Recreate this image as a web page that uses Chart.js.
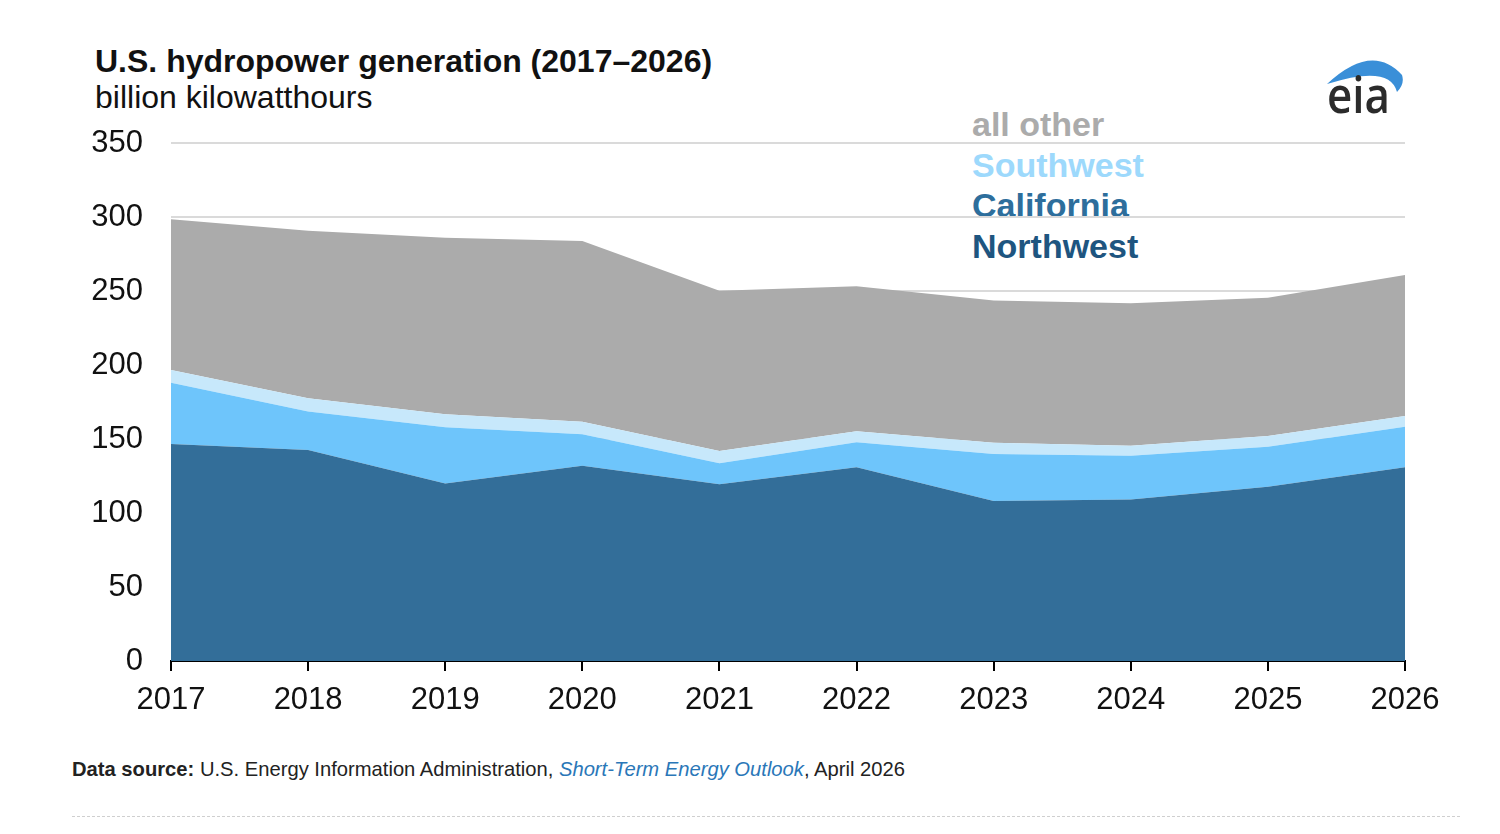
<!DOCTYPE html>
<html>
<head>
<meta charset="utf-8">
<script src="https://cdn.jsdelivr.net/npm/chart.js@4.4.1/dist/chart.umd.min.js"></script>
<style>
  html, body { margin: 0; padding: 0; background: #fff; }
  #page { position: relative; width: 1500px; height: 834px; overflow: hidden; font-family: "Liberation Sans", Arial, sans-serif; }
  #chartBox { position: absolute; left: 0; top: 0; width: 1500px; height: 834px; z-index: 2; }
  .title { position: absolute; left: 95px; top: 45px; font-size: 32px; font-weight: bold; line-height: 1; color: #111; }
  .subtitle { position: absolute; left: 95px; top: 81px; font-size: 32px; line-height: 1; color: #111; }
  .legend { position: absolute; left: 972px; top: 104px; font-size: 34px; font-weight: bold; line-height: 40.5px; z-index: 1; }
  .source { position: absolute; left: 72px; top: 757px; font-size: 20.2px; line-height: 24px; color: #222; }
  .source i { color: #2a77b8; }
  .rule { position: absolute; left: 72px; top: 816px; width: 1388px; border-top: 1px dashed #cfcfcf; }
  .logo { position: absolute; left: 1320px; top: 52px; z-index: 3; }
</style>
</head>
<body>
<div id="page">
  <div class="title">U.S. hydropower generation (2017–2026)</div>
  <div class="subtitle">billion kilowatthours</div>
  <div class="legend" id="legend"></div>
  <svg class="logo" width="90" height="70" viewBox="1320 52 90 70">
    <path d="M1327,84 Q1372,42 1402,75 Q1405,84 1397,92 Q1390,64 1327,84 Z" fill="#3a8fd8"/>
    <text x="1327" y="113" font-family="Open Sans, Liberation Sans, sans-serif" font-size="50" font-weight="600" fill="#2b2b2b" textLength="63" lengthAdjust="spacingAndGlyphs">eia</text>
  </svg>
  <div id="chartBox"><canvas id="hydroChart"></canvas></div>
  <div class="source"><b>Data source:</b> U.S. Energy Information Administration, <i>Short-Term Energy Outlook</i>, April 2026</div>
  <div class="rule"></div>
</div>
<script>
// years on the x axis
const years = ["2017", "2018", "2019", "2020", "2021", "2022", "2023", "2024", "2025", "2026"];

// billion kWh (bottom to top)
const northwest = [146.6, 142.6, 120.0, 132.0, 119.4, 130.9, 108.1, 109.2, 117.8, 130.9];
const california = [41.4, 25.9, 37.9, 21.2, 14.2, 16.9, 31.8, 29.5, 27.0, 27.4];
const southwest = [8.6, 9.0, 8.8, 8.5, 8.3, 7.4, 7.6, 6.8, 7.2, 7.2];
const allOther = [101.8, 113.2, 119.3, 122.1, 108.3, 98.0, 96.0, 96.2, 93.5, 95.3];

const yTicks = [0, 50, 100, 150, 200, 250, 300, 350];

// legend is drawn top to bottom in the reverse stack order
const legendItems = [
  { label: "all other", color: "#ababab" },
  { label: "Southwest", color: "#9dd9fc" },
  { label: "California", color: "#2d6e9c" },
  { label: "Northwest", color: "#1e5580" },
];

const legendEl = document.getElementById("legend");
legendItems.forEach((item) => {
  const d = document.createElement("div");
  d.textContent = item.label;
  d.style.color = item.color;
  legendEl.appendChild(d);
});

function area(label, data, color, fill) {
  return {
    label: label,
    data: data,
    backgroundColor: color,
    borderColor: color,
    borderWidth: 0,
    pointRadius: 0,
    tension: 0,
    fill: fill,
  };
}

const tickFont = { family: "'Liberation Sans', Arial, sans-serif", size: 31 };

new Chart(document.getElementById("hydroChart"), {
  type: "line",
  data: {
    labels: years,
    datasets: [
      area("Northwest", northwest, "#336e99", "origin"),
      area("California", california, "#6ec5fb", "-1"),
      area("Southwest", southwest, "#c7e8fb", "-1"),
      area("all other", allOther, "#ababab", "-1"),
    ],
  },
  options: {
    responsive: true,
    maintainAspectRatio: false,
    animation: false,
    layout: { padding: { top: 143, right: 95, left: 0, bottom: 0 } },
    plugins: {
      legend: { display: false },
      tooltip: { enabled: false },
    },
    scales: {
      x: {
        z: 1,
        offset: false,
        grid: {
          drawOnChartArea: false,
          drawTicks: true,
          tickLength: 10,
          color: "#000",
          lineWidth: 2,
        },
        border: { display: true, color: "#000", width: 2 },
        ticks: { color: "#111", font: tickFont, padding: 11, maxRotation: 0 },
        afterFit: (s) => { s.height = 173; },
      },
      y: {
        stacked: true,
        min: 0,
        max: 350,
        afterBuildTicks: (s) => { s.ticks = yTicks.map((v) => ({ value: v })); },
        grid: {
          drawTicks: false,
          lineWidth: 2,
          color: (ctx) => (ctx.tick && ctx.tick.value === 0 ? "rgba(0,0,0,0)" : "#dadada"),
        },
        border: { display: false },
        ticks: { color: "#111", font: tickFont, padding: 28 },
        afterFit: (s) => { s.width = 171; },
      },
    },
  },
});
</script>
</body>
</html>
